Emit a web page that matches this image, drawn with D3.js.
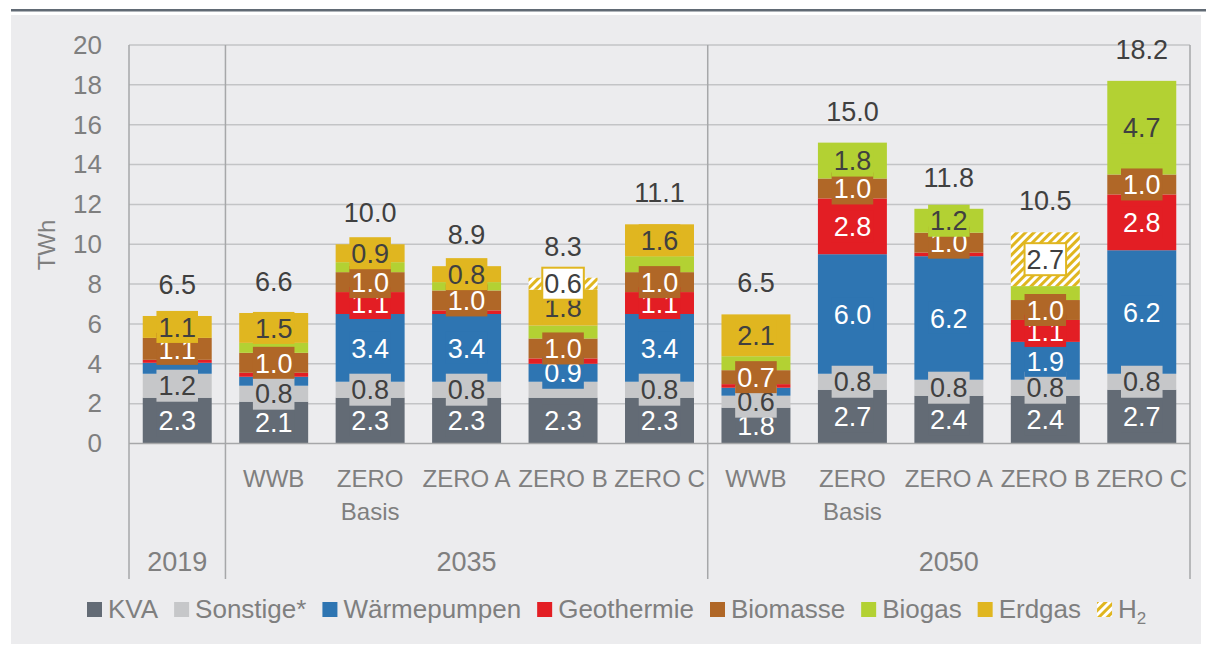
<!DOCTYPE html>
<html>
<head>
<meta charset="utf-8">
<script src="https://cdn.jsdelivr.net/npm/d3@7"></script>
<style>
  html, body { margin: 0; padding: 0; background: #ffffff; }
  svg { display: block; font-family: "Liberation Sans", Arial, sans-serif; }
</style>
</head>
<body>
<div id="chart"></div>
<script>
// Kategorien (Szenarien) und Jahre
const scenarioLabels = ["", "WWB", "ZERO|Basis", "ZERO A", "ZERO B", "ZERO C", "WWB", "ZERO|Basis", "ZERO A", "ZERO B", "ZERO C"];
const years = ["2019", "2035", "2050"];
const yearSize = [1, 5, 5];

// Werte in TWh
const kva          = [2.3, 2.1, 2.3, 2.3, 2.3, 2.3, 1.8, 2.7, 2.4, 2.4, 2.7];
const sonstige     = [1.2, 0.8, 0.8, 0.8, 0.8, 0.8, 0.6, 0.8, 0.8, 0.8, 0.8];
const waermepumpen = [0.55, 0.45, 3.4, 3.4, 0.9, 3.4, 0.4, 6.0, 6.2, 1.9, 6.2];
const geothermie   = [0.15, 0.2, 1.1, 0.18, 0.27, 1.1, 0.18, 2.8, 0.18, 1.1, 2.8];
const biomasse     = [1.1, 1.0, 1.0, 1.0, 1.0, 1.0, 0.7, 1.0, 1.0, 1.0, 1.0];
const biogas       = [0, 0.5, 0.5, 0.42, 0.65, 0.8, 0.7, 1.8, 1.2, 0.7, 4.7];
const erdgas       = [1.1, 1.5, 0.9, 0.8, 1.8, 1.6, 2.1, 0, 0, 0, 0];
const h2           = [0, 0, 0, 0, 0.6, 0, 0, 0, 0, 2.7, 0];
const totals       = [6.5, 6.6, 10.0, 8.9, 8.3, 11.1, 6.5, 15.0, 11.8, 10.5, 18.2];

const seriesNames = ["KVA", "Sonstige*", "Wärmepumpen", "Geothermie", "Biomasse", "Biogas", "Erdgas", "H2"];
const seriesValues = [kva, sonstige, waermepumpen, geothermie, biomasse, biogas, erdgas, h2];
const yTicks = [0, 2, 4, 6, 8, 10, 12, 14, 16, 18, 20];

// Farben
const colors = ["#636b75", "#c6c7c9", "#2e75b2", "#e31e24", "#b06727", "#b3d133", "#e0b620", "url(#h2hatch)"];
const labelColors = ["#fff", "#404040", "#fff", "#fff", "#fff", "#404040", "#404040", "#404040"];
const labelMin = [0.6, 0.6, 0.6, 0.6, 0.6, 1.0, 0.6, 0.6];
// im Original nicht sichtbare Beschriftung: [Serie, Balken]
const hiddenLabels = [[1, 4]];

const width = 1206;
const height = 647;
const margin = { left: 129, right: 1190, top: 45, bottom: 443.5 };

const svg = d3.select("#chart").append("svg")
    .attr("width", width)
    .attr("height", height);

// Schraffur für H2
const pat = svg.append("defs").append("pattern")
    .attr("id", "h2hatch")
    .attr("patternUnits", "userSpaceOnUse")
    .attr("width", 6)
    .attr("height", 6)
    .attr("patternTransform", "rotate(45)");
pat.append("rect").attr("width", 6).attr("height", 6).attr("fill", "#ffffff");
pat.append("rect").attr("width", 3).attr("height", 6).attr("fill", "#e0b620");

// Hintergrund und obere Linie
svg.append("rect")
    .attr("x", 11).attr("y", 15)
    .attr("width", 1190).attr("height", 629)
    .attr("fill", "#ececee");
svg.append("rect")
    .attr("x", 11).attr("y", 9)
    .attr("width", width - 11).attr("height", 2.5)
    .attr("fill", "#616a74");

// Skalen
const idx = d3.range(scenarioLabels.length);
const x = d3.scaleBand()
    .domain(idx)
    .range([margin.left, margin.right])
    .paddingInner(0.285)
    .paddingOuter(0.1425);

const y = d3.scaleLinear()
    .domain([0, 20])
    .range([margin.bottom, margin.top]);

// Gitterlinien
svg.append("g")
    .selectAll("line")
    .data(yTicks.filter(d => d > 0))
    .join("line")
    .attr("x1", margin.left)
    .attr("x2", margin.right)
    .attr("y1", d => y(d))
    .attr("y2", d => y(d))
    .attr("stroke", "#c3c4c6")
    .attr("stroke-width", 1.5);

// Y-Achse
const yAxis = svg.append("g")
    .attr("transform", `translate(${margin.left - 27},0)`)
    .call(d3.axisLeft(y).tickValues(yTicks).tickSize(0).tickPadding(0));
yAxis.select(".domain").remove();
yAxis.selectAll("text")
    .attr("fill", "#7f7f7f")
    .style("font-size", "26px")
    .style("font-family", "'Liberation Sans', Arial, sans-serif");

svg.append("text")
    .attr("transform", `translate(55,245) rotate(-90)`)
    .attr("text-anchor", "middle")
    .attr("fill", "#7f7f7f")
    .style("font-size", "24px")
    .text("TWh");

// Stapel
const table = idx.map(i => {
    const row = { i: i };
    seriesNames.forEach((s, k) => { row[s] = seriesValues[k][i]; });
    return row;
});
const stacked = d3.stack().keys(seriesNames)(table);

const layers = svg.append("g")
    .selectAll("g")
    .data(stacked)
    .join("g")
    .attr("fill", (d, k) => colors[k]);

layers.selectAll("rect")
    .data(d => d)
    .join("rect")
    .attr("x", d => x(d.data.i))
    .attr("width", x.bandwidth())
    .attr("y", d => y(d[1]))
    .attr("height", d => Math.max(0, y(d[0]) - y(d[1])));

// X-Achse (Nulllinie) und Trennlinien
svg.append("line")
    .attr("x1", margin.left).attr("x2", margin.right)
    .attr("y1", y(0)).attr("y2", y(0))
    .attr("stroke", "#a6a7a9").attr("stroke-width", 1.5);

let pos = 0;
const sepIdx = [0];
yearSize.forEach(n => { pos += n; sepIdx.push(pos); });
const step = x.step();
svg.append("g")
    .selectAll("line")
    .data(sepIdx)
    .join("line")
    .attr("x1", d => margin.left + d * step)
    .attr("x2", d => margin.left + d * step)
    .attr("y1", margin.top)
    .attr("y2", 579)
    .attr("stroke", "#a6a7a9")
    .attr("stroke-width", 1.5);

// Datenbeschriftungen
const fmt = d3.format(".1f");
stacked.forEach((layer, k) => {
    const g = svg.append("g");
    layer.forEach(d => {
        const v = d[1] - d[0];
        if (v < labelMin[k] - 1e-9) return;
        if (hiddenLabels.some(h => h[0] === k && h[1] === d.data.i)) return;
        const cx = x(d.data.i) + x.bandwidth() / 2;
        const cy = y((d[0] + d[1]) / 2);
        const box = g.append("rect");
        const t = g.append("text")
            .attr("x", cx)
            .attr("y", cy)
            .attr("dy", "0.36em")
            .attr("text-anchor", "middle")
            .attr("fill", labelColors[k])
            .style("font-size", "27px")
            .text(fmt(v));
        const w = t.node().getComputedTextLength();
        box.attr("x", cx - w / 2 - 2)
            .attr("y", cy - 16)
            .attr("width", w + 4)
            .attr("height", 32)
            .attr("fill", k === 7 ? "#ffffff" : colors[k]);
        if (k === 7) {
            box.attr("stroke", "#e0b620").attr("stroke-width", 2);
        }
    });
});

// Summen
const topLayer = stacked[stacked.length - 1];
svg.append("g")
    .selectAll("text")
    .data(topLayer)
    .join("text")
    .attr("x", d => x(d.data.i) + x.bandwidth() / 2)
    .attr("y", d => y(d[1]) - 22)
    .attr("text-anchor", "middle")
    .attr("fill", "#404040")
    .style("font-size", "27px")
    .text((d, i) => fmt(totals[i]));

// Kategorienbeschriftung
const catG = svg.append("g")
    .attr("fill", "#7f7f7f")
    .style("font-size", "24px");
scenarioLabels.forEach((lab, i) => {
    const t = catG.append("text")
        .attr("x", x(i) + x.bandwidth() / 2)
        .attr("y", 487)
        .attr("text-anchor", "middle");
    lab.split("|").forEach((part, j) => {
        t.append("tspan")
            .attr("x", x(i) + x.bandwidth() / 2)
            .attr("dy", j === 0 ? 0 : 33)
            .text(part);
    });
});

// Jahre
svg.append("g")
    .selectAll("text")
    .data(years)
    .join("text")
    .attr("x", (d, k) => margin.left + (sepIdx[k] + sepIdx[k + 1]) / 2 * step)
    .attr("y", 571)
    .attr("text-anchor", "middle")
    .attr("fill", "#7f7f7f")
    .style("font-size", "27px")
    .text(d => d);

// Legende
const legend = svg.append("g");
let lx = 87;
seriesNames.forEach((name, k) => {
    legend.append("rect")
        .attr("x", lx).attr("y", 602)
        .attr("width", 15).attr("height", 15)
        .attr("fill", colors[k]);
    const t = legend.append("text")
        .attr("x", lx + 21)
        .attr("y", 617.5)
        .attr("fill", "#7f7f7f")
        .style("font-size", "26px");
    if (name === "H2") {
        t.append("tspan").text("H");
        t.append("tspan").attr("dy", 6).style("font-size", "17px").text("2");
    } else {
        t.text(name);
    }
    lx += 21 + t.node().getComputedTextLength() + 16;
});
</script>
</body>
</html>
